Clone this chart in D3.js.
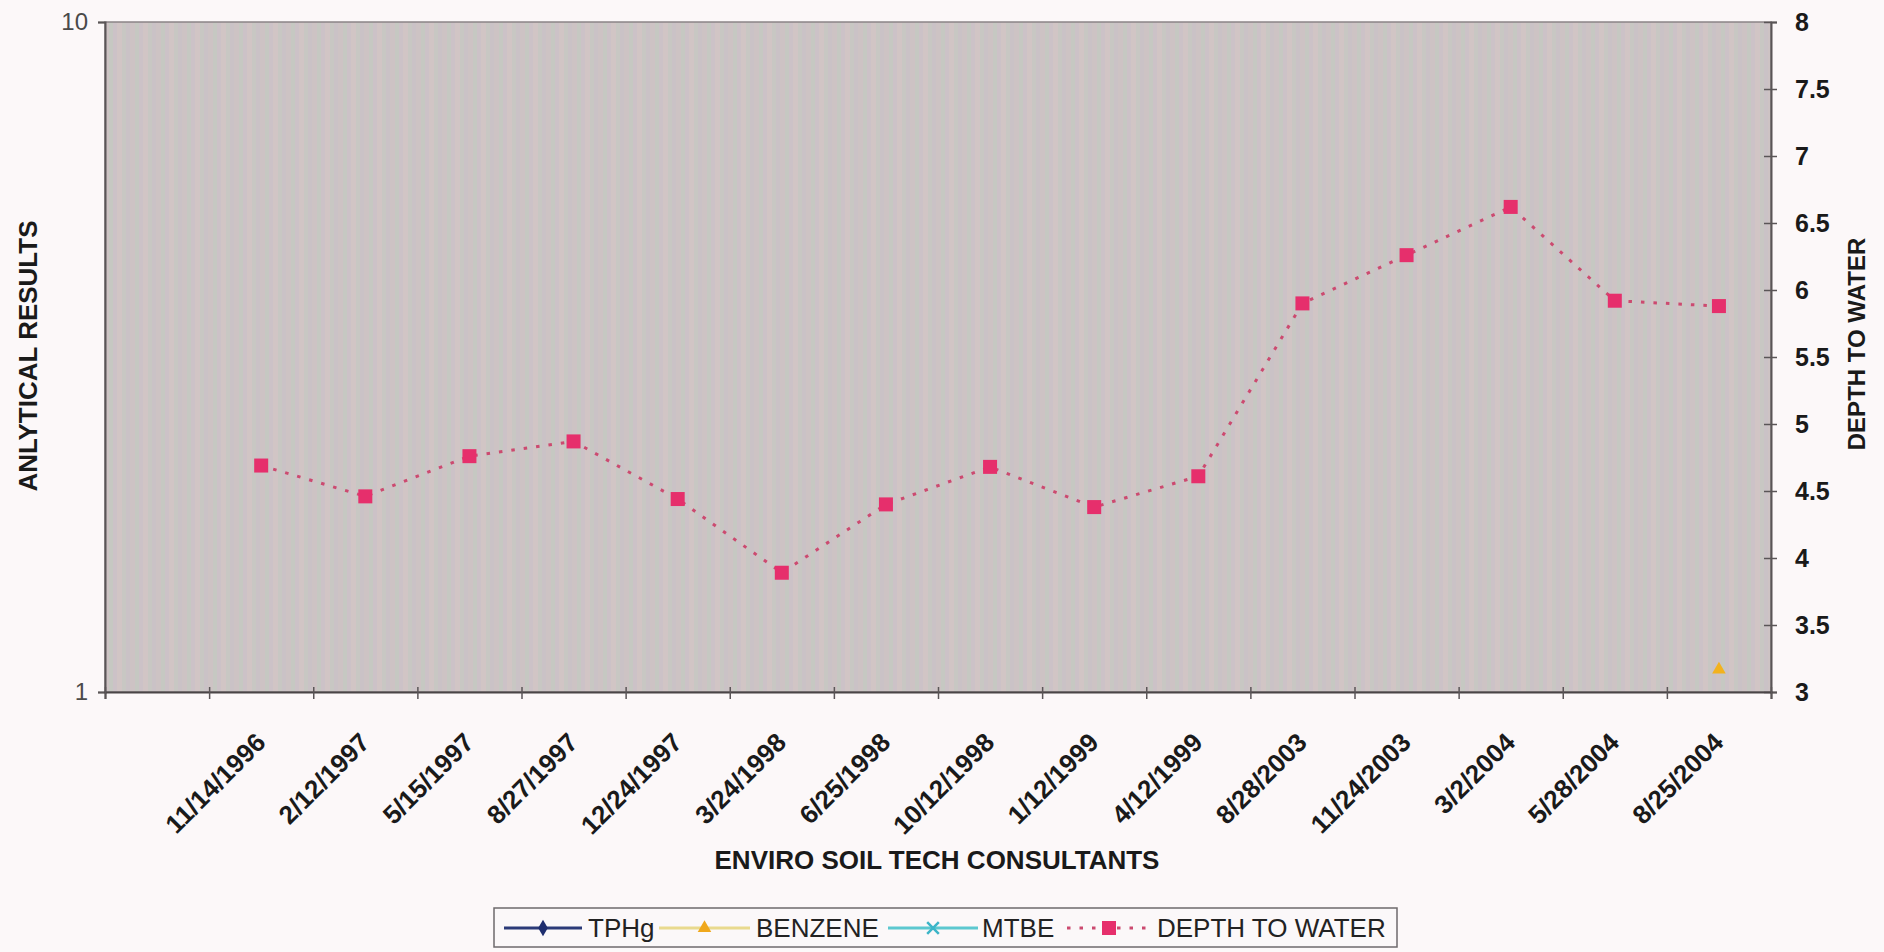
<!DOCTYPE html>
<html>
<head>
<meta charset="utf-8">
<script src="https://cdn.jsdelivr.net/npm/d3@7"></script>
<style>
  html, body { margin: 0; padding: 0; background: #fcf8f9; }
  svg { display: block; font-family: "Liberation Sans", Arial, sans-serif; }
</style>
</head>
<body>
<svg id="chart" width="1884" height="952"></svg>
<script>
// Sampling dates (first slot is an empty category)
const categories = ["", "11/14/1996", "2/12/1997", "5/15/1997", "8/27/1997", "12/24/1997",
  "3/24/1998", "6/25/1998", "10/12/1998", "1/12/1999", "4/12/1999",
  "8/28/2003", "11/24/2003", "3/2/2004", "5/28/2004", "8/25/2004"];

// Analytical results (left, log axis); null = not plotted
const tphg    = [null, null, null, null, null, null, null, null, null, null, null, null, null, null, null, null];
const benzene = [null, null, null, null, null, null, null, null, null, null, null, null, null, null, null, 1.08];
const mtbe    = [null, null, null, null, null, null, null, null, null, null, null, null, null, null, null, null];

// Depth to water (right axis, feet)
const depthToWater = [null, 4.69, 4.46, 4.76, 4.87, 4.44, 3.89, 4.40, 4.68, 4.38, 4.61,
  5.90, 6.26, 6.62, 5.92, 5.88];

const leftTicks = [1, 10];
const rightTicks = [3, 3.5, 4, 4.5, 5, 5.5, 6, 6.5, 7, 7.5, 8];

const svg = d3.select("#chart");
const plot = { left: 105, right: 1771, top: 22, bottom: 692 };

const x = d3.scaleBand().domain(categories).range([plot.left, plot.right]).padding(0);
const xEdge = d3.scaleLinear().domain([0, categories.length]).range([plot.left, plot.right]);
const yLeft = d3.scaleLog().domain([1, 10]).range([plot.bottom, plot.top]);
const yRight = d3.scaleLinear().domain([3, 8]).range([plot.bottom, plot.top]);
const cx = (i) => x(categories[i]) + x.bandwidth() / 2;

// Plot area fill with a faint vertical texture
const defs = svg.append("defs");
const pat = defs.append("pattern").attr("id", "stripes")
  .attr("patternUnits", "userSpaceOnUse").attr("width", 26).attr("height", 10);
const stripeCols = ["#cdc3c4", "#c6c8c2", "#ccc2c7", "#d1c5c5", "#c8c7c3", "#cac2c6"];
const stripeW = [5, 4, 4, 5, 4, 4];
let sx = 0;
stripeCols.forEach((c, i) => {
  pat.append("rect").attr("x", sx).attr("y", 0).attr("width", stripeW[i]).attr("height", 10).attr("fill", c);
  sx += stripeW[i];
});

svg.append("rect")
  .attr("x", plot.left).attr("y", plot.top)
  .attr("width", plot.right - plot.left).attr("height", plot.bottom - plot.top)
  .attr("fill", "url(#stripes)")
  .attr("stroke", "#8a8486").attr("stroke-width", 1.5);

// Left axis (log)
const gLeft = svg.append("g").attr("transform", `translate(${plot.left},0)`)
  .call(d3.axisLeft(yLeft).tickValues(leftTicks).tickFormat(d3.format("d")).tickSize(7).tickPadding(10));
gLeft.select(".domain").attr("stroke", "#5a5557").attr("stroke-width", 2);
gLeft.selectAll(".tick line").attr("stroke", "#5a5557").attr("stroke-width", 1.5);
gLeft.selectAll(".tick text").attr("font-size", 24).attr("fill", "#4a4a4a");

// Right axis (depth)
const gRight = svg.append("g").attr("transform", `translate(${plot.right},0)`)
  .call(d3.axisRight(yRight).tickValues(rightTicks).tickFormat(d => String(d)).tickSize(6).tickPadding(18));
gRight.select(".domain").attr("stroke", "#5a5557").attr("stroke-width", 2);
gRight.selectAll(".tick line").attr("x1", -7).attr("x2", 6).attr("stroke", "#5a5557").attr("stroke-width", 1.5);
gRight.selectAll(".tick text").attr("font-size", 25).attr("font-weight", "bold").attr("fill", "#1a1a1a");

// Bottom axis: tick marks at category edges
const gTicks = svg.append("g").attr("transform", `translate(0,${plot.bottom})`)
  .call(d3.axisBottom(xEdge).tickValues(d3.range(0, categories.length + 1)).tickFormat("").tickSize(7));
gTicks.select(".domain").attr("stroke", "#4a4547").attr("stroke-width", 2);
gTicks.selectAll(".tick line").attr("y1", -5).attr("stroke", "#5a5557").attr("stroke-width", 1.5);

// Bottom axis: rotated date labels at category centres
const gLabels = svg.append("g").attr("transform", `translate(0,${plot.bottom})`)
  .call(d3.axisBottom(x).tickSize(0));
gLabels.select(".domain").remove();
gLabels.selectAll(".tick text")
  .attr("x", 0).attr("y", 0).attr("dy", 0)
  .attr("transform", "translate(6,52) rotate(-45)")
  .attr("text-anchor", "end")
  .attr("font-size", 26)
  .attr("font-weight", "bold")
  .attr("fill", "#1a1a1a");

// Depth to water: dotted line with square markers
const depthPts = depthToWater.map((v, i) => ({ i, v })).filter(d => d.v != null);
svg.append("path")
  .datum(depthToWater.map((v, i) => ({ i, v })))
  .attr("fill", "none")
  .attr("stroke", "#cc4a70")
  .attr("stroke-width", 3)
  .attr("stroke-dasharray", "3.5 9")
  .attr("d", d3.line().defined(d => d.v != null).x(d => cx(d.i)).y(d => yRight(d.v)));
svg.append("g").selectAll("rect").data(depthPts).join("rect")
  .attr("x", d => cx(d.i) - 7).attr("y", d => yRight(d.v) - 7)
  .attr("width", 14).attr("height", 14)
  .attr("fill", "#e62f6c");

// Benzene (log axis)
const benzPts = benzene.map((v, i) => ({ i, v })).filter(d => d.v != null);
svg.append("g").selectAll("path").data(benzPts).join("path")
  .attr("transform", d => `translate(${cx(d.i)},${yLeft(d.v)})`)
  .attr("d", d3.symbol(d3.symbolTriangle, 80))
  .attr("fill", "#f2b21e");

// TPHg and MTBE series (no plotted values)
[[tphg, "#1e2d6e"], [mtbe, "#3cb5c8"]].forEach(([vals, col]) => {
  svg.append("path")
    .datum(vals.map((v, i) => ({ i, v })))
    .attr("fill", "none").attr("stroke", col).attr("stroke-width", 2.5)
    .attr("d", d3.line().defined(d => d.v != null).x(d => cx(d.i)).y(d => yLeft(d.v)));
});

// Axis titles
svg.append("text")
  .attr("transform", "translate(37,356) rotate(-90)")
  .attr("text-anchor", "middle").attr("font-size", 26).attr("font-weight", "bold").attr("fill", "#1a1a1a")
  .text("ANLYTICAL RESULTS");
svg.append("text")
  .attr("transform", "translate(1865,344) rotate(-90)")
  .attr("text-anchor", "middle").attr("font-size", 24).attr("font-weight", "bold").attr("fill", "#1a1a1a")
  .text("DEPTH TO WATER");
svg.append("text")
  .attr("x", 937).attr("y", 869)
  .attr("text-anchor", "middle").attr("font-size", 26).attr("font-weight", "bold").attr("fill", "#1a1a1a")
  .text("ENVIRO SOIL TECH CONSULTANTS");

// Legend
const lg = svg.append("g");
lg.append("rect").attr("x", 494).attr("y", 908).attr("width", 903).attr("height", 39)
  .attr("fill", "#fbf8f9").attr("stroke", "#6e6a6c").attr("stroke-width", 1.5);
const ly = 928;
const legendItems = [
  { name: "TPHg", x0: 504, x1: 582, line: "#2b3a78", dash: null, marker: "diamond", mcol: "#1e2d6e", tx: 588 },
  { name: "BENZENE", x0: 659, x1: 750, line: "#e9da8e", dash: null, marker: "triangle", mcol: "#f0a81c", tx: 756 },
  { name: "MTBE", x0: 888, x1: 978, line: "#5cc8d0", dash: null, marker: "x", mcol: "#3cb5c8", tx: 982 },
  { name: "DEPTH TO WATER", x0: 1067, x1: 1151, line: "#cc4a70", dash: "3.5 9", marker: "square", mcol: "#e62f6c", tx: 1157 }
];
legendItems.forEach(it => {
  const mx = (it.x0 + it.x1) / 2;
  lg.append("line").attr("x1", it.x0).attr("x2", it.x1).attr("y1", ly).attr("y2", ly)
    .attr("stroke", it.line).attr("stroke-width", 3)
    .attr("stroke-dasharray", it.dash);
  if (it.marker === "diamond") {
    lg.append("path").attr("transform", `translate(${mx},${ly})`)
      .attr("d", d3.symbol(d3.symbolDiamond, 80)).attr("fill", it.mcol);
  } else if (it.marker === "triangle") {
    lg.append("path").attr("transform", `translate(${mx},${ly})`)
      .attr("d", d3.symbol(d3.symbolTriangle, 80)).attr("fill", it.mcol);
  } else if (it.marker === "x") {
    lg.append("path").attr("transform", `translate(${mx},${ly})`)
      .attr("d", d3.symbol(d3.symbolX, 90)).attr("stroke", it.mcol).attr("stroke-width", 2.5).attr("fill", "none");
  } else {
    lg.append("rect").attr("x", mx - 7).attr("y", ly - 7).attr("width", 14).attr("height", 14).attr("fill", it.mcol);
  }
  lg.append("text").attr("x", it.tx).attr("y", ly + 9)
    .attr("font-size", 26).attr("fill", "#222").text(it.name);
});
</script>
</body>
</html>
